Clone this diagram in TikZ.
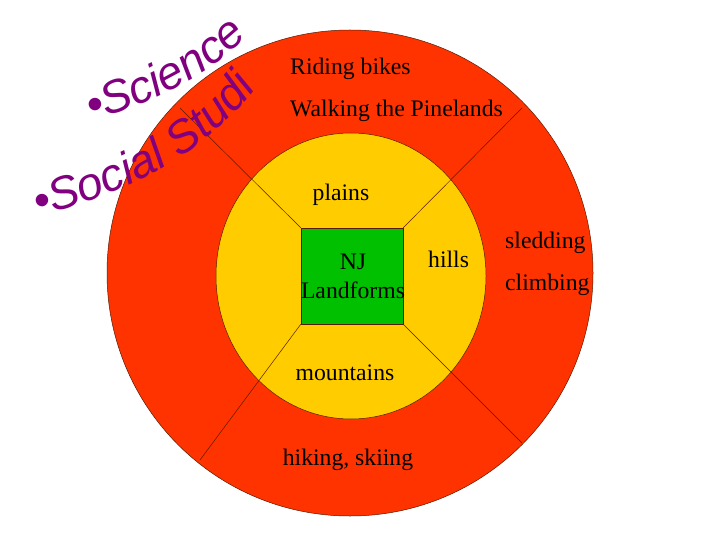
\documentclass[tikz,border=0pt]{standalone}
\usepackage{fontspec}
\setmainfont{Liberation Serif}
\newfontfamily\curvefont{Liberation Sans}
\usetikzlibrary{decorations.text}
\definecolor{ringred}{HTML}{FF3300}
\definecolor{ringyellow}{HTML}{FFCC00}
\definecolor{coregreen}{HTML}{00C000}
\definecolor{wordpurple}{HTML}{800080}
\definecolor{rimline}{HTML}{5A1A00}
\begin{document}
\begin{tikzpicture}[x=1pt,y=-1pt,
        word/.style={font=\fontsize{23.7}{29}\selectfont, inner sep=0pt},
        spoke/.style={draw=rimline, line width=0.5pt},
        subject/.style={decorate, decoration={text along path, text align=left,
            text color=wordpurple, text={|\curvefont\itshape\fontsize{46}{46}\selectfont|#1}}}]
        \useasboundingbox (0,0) rectangle (720,540);
        % rings
        \filldraw[fill=ringred, draw=rimline, line width=0.5pt] (350,273) circle[radius=243pt];
        \filldraw[fill=ringyellow, draw=rimline, line width=0.5pt] (351,276) ellipse[x radius=135pt, y radius=143pt];
        % spokes
        \node[draw=rimline, fill=coregreen, minimum width=102pt, minimum height=96pt] (core) at (352,276) {};
        \coordinate (nwrim) at (180,108);
        \coordinate (nerim) at (522,108);
        \coordinate (swrim) at (200,460);
        \coordinate (serim) at (522,443);
        \draw[spoke] (core.north west) -- (nwrim);
        \draw[spoke] (core.north east) -- (nerim);
        \draw[spoke] (core.south west) -- (swrim);
        \draw[spoke] (core.south east) -- (serim);
        % words
        \node[word, align=center] (coretext) at (353,276) {NJ\\Landforms};
        \node[word, anchor=base] (plains) at (341,201) {plains};
        \node[word, anchor=base west] (hills) at (428,267) {hills};
        \node[word, anchor=base] (mountains) at (345,380) {mountains};
        \node[word, anchor=base west] (bikes) at (290,75) {Riding bikes};
        \node[word, anchor=base west] (pines) at (290,117) {Walking the Pinelands};
        \node[word, anchor=base west] (sled) at (505,248) {sledding};
        \node[word, anchor=base west] (climb) at (505,290) {climbing};
        \node[word, anchor=base] (hike) at (348,465) {hiking, skiing};
        % curved subjects
        \path[subject={•Science}] (91,121) .. controls (145,107) and (215,75) .. (263,21);
        \path[subject={•Social Studi}] (38,217) .. controls (118,195) and (208,163) .. (276,61);
\end{tikzpicture}
\end{document}
